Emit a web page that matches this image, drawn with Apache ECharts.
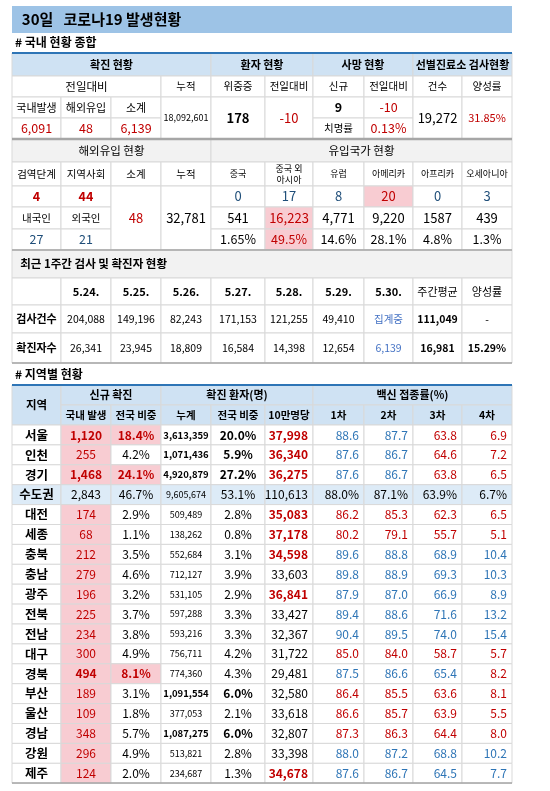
<!DOCTYPE html>
<html>
<head>
<meta charset="utf-8">
<script src="https://cdn.jsdelivr.net/npm/echarts@6/dist/echarts.min.js"></script>
<style>
  html, body { margin: 0; padding: 0; background: #fff; }
  #chart { width: 550px; height: 791px; }
</style>
</head>
<body>
<div id="chart"></div>
<script>
// ---- data ----
const titleText = '30일   코로나19 발생현황';

const t1Groups = ['확진 현황', '환자 현황', '사망 현황', '선별진료소 검사현황'];
const t1Sub = ['전일대비', '누적', '위중증', '전일대비', '신규', '전일대비', '건수', '양성률'];
const confirmLabels = ['국내발생', '해외유입', '소계'];
const confirmValues = ['6,091', '48', '6,139'];
const cumulativeTotal = '18,092,601';
const critical = ['178', '-10'];
const deaths = ['9', '-10'];
const fatality = ['치명률', '0.13%'];
const screening = ['19,272', '31.85%'];

const importLabels = ['검역단계', '지역사회', '소계', '누적'];
const importStage = ['4', '44'];
const importNat = ['내국인', '외국인'];
const importNatValues = ['27', '21'];
const importSub = '48';
const importCum = '32,781';
const origins = ['중국', '중국 외\n아시아', '유럽', '아메리카', '아프리카', '오세아니아'];
const originToday = ['0', '17', '8', '20', '0', '3'];
const originCum = ['541', '16,223', '4,771', '9,220', '1587', '439'];
const originShare = ['1.65%', '49.5%', '14.6%', '28.1%', '4.8%', '1.3%'];

const weekDates = ['5.24.', '5.25.', '5.26.', '5.27.', '5.28.', '5.29.', '5.30.', '주간평균', '양성률'];
const weekTests = ['204,088', '149,196', '82,243', '171,153', '121,255', '49,410', '집계중', '111,049', '-'];
const weekCases = ['26,341', '23,945', '18,809', '16,584', '14,398', '12,654', '6,139', '16,981', '15.29%'];

const regions = ['서울','인천','경기','수도권','대전','세종','충북','충남','광주','전북','전남','대구','경북','부산','울산','경남','강원','제주'];
const newLocal = [1120,255,1468,2843,174,68,212,279,196,225,234,300,494,189,109,348,296,124];
const newShare = [18.4,4.2,24.1,46.7,2.9,1.1,3.5,4.6,3.2,3.7,3.8,4.9,8.1,3.1,1.8,5.7,4.9,2.0];
const cumCases = [3613359,1071436,4920879,9605674,509489,138262,552684,712127,531105,597288,593216,756711,774360,1091554,377053,1087275,513821,234687];
const cumShare = [20.0,5.9,27.2,53.1,2.8,0.8,3.1,3.9,2.9,3.3,3.3,4.2,4.3,6.0,2.1,6.0,2.8,1.3];
const per100k = [37998,36340,36275,110613,35083,37178,34598,33603,36841,33427,32367,31722,29481,32580,33618,32807,33398,34678];
const dose1 = [88.6,87.6,87.6,88.0,86.2,80.2,89.6,89.8,87.9,89.4,90.4,85.0,87.5,86.4,86.6,87.3,88.0,87.6];
const dose2 = [87.7,86.7,86.7,87.1,85.3,79.1,88.8,88.9,87.0,88.6,89.5,84.0,86.6,85.5,85.7,86.3,87.2,86.7];
const dose3 = [63.8,64.6,63.8,63.9,62.3,55.7,68.9,69.3,66.9,71.6,74.0,58.7,65.4,63.6,63.9,64.4,68.8,64.5];
const dose4 = [6.9,7.2,6.5,6.7,6.5,5.1,10.4,10.3,8.9,13.2,15.4,5.7,8.2,8.1,5.5,8.0,10.2,7.7];

// ---- styling / layout ----
const vacTone = ['bbrr','bbrr','bbrr','kkkk','rrrr','rrrr','bbbb','bbbb','bbbb','bbbb','bbbb','rrrr','bbbr','rrrr','rrrr','rrrr','bbbb','bbbb'];
const RED = '#c00000', BLUE = '#2e75b6', NAVY = '#1f4e79', LINK = '#4472c4';
const PINK = '#f8ccd2', HEAD = '#cfe2f3', GRAY = '#f2f2f2', SUDO = '#ddebf7';
const X = [12, 61, 111, 161, 211, 265, 313, 364, 413, 462, 512];
const Y1 = [53, 76, 97, 118, 139];
const Y2 = [139, 162, 186, 207, 229, 250];
const Y3 = [250, 278, 305, 333, 363];
const Y4 = [385, 405, 425];
for (let i = 1; i <= regions.length; i++) Y4.push(425 + i * 19.9);

const fmt = v => v.toLocaleString('en-US');
const cells = [];
function cell(ys, c0, c1, r0, r1, text, o) {
  o = o || {};
  cells.push([X[c0], ys[r0], X[c1], ys[r1], text, o.bg || '#fff', o.color || '#000',
    o.bold ? 'bold' : 'normal', o.size || 11.5, o.align || 'center', o.stroke === undefined ? '#d9d9d9' : o.stroke]);
}
function free(x0, y0, x1, y1, text, o) { cells.push([x0, y0, x1, y1, text, o.bg || 'rgba(0,0,0,0)', o.color || '#000', o.bold ? 'bold' : 'normal', o.size || 12, o.align || 'left', null]); }

// title + section labels
free(12, 6, 512, 33, '  ' + titleText, { bg: '#9dc3e6', bold: true, size: 15 });
free(12, 35, 300, 50, '# 국내 현황 종합', { bold: true, size: 12 });
free(12, 366, 300, 382, '# 지역별 현황', { bold: true, size: 12 });

// table 1
[[0, 4], [4, 6], [6, 8], [8, 10]].forEach((s, i) => cell(Y1, s[0], s[1], 0, 1, t1Groups[i], { bg: HEAD, bold: true, size: 11 }));
cell(Y1, 0, 3, 1, 2, t1Sub[0]);
t1Sub.slice(1).forEach((t, i) => cell(Y1, 3 + i, 4 + i, 1, 2, t, { size: 10.5 }));
confirmLabels.forEach((t, i) => cell(Y1, i, i + 1, 2, 3, t, { size: 11 }));
confirmValues.forEach((t, i) => cell(Y1, i, i + 1, 3, 4, t, { color: RED, size: 12.5 }));
cell(Y1, 3, 4, 2, 4, cumulativeTotal, { size: 9 });
cell(Y1, 4, 5, 2, 4, critical[0], { bold: true, size: 13 });
cell(Y1, 5, 6, 2, 4, critical[1], { color: RED, size: 13 });
cell(Y1, 6, 7, 2, 3, deaths[0], { bold: true, size: 12.5 });
cell(Y1, 7, 8, 2, 3, deaths[1], { color: RED, size: 12.5 });
cell(Y1, 6, 7, 3, 4, fatality[0], { size: 10.5 });
cell(Y1, 7, 8, 3, 4, fatality[1], { color: RED, size: 12.5 });
cell(Y1, 8, 9, 2, 4, screening[0], { size: 13 });
cell(Y1, 9, 10, 2, 4, screening[1], { color: RED, size: 11 });

// table 2
cell(Y2, 0, 4, 0, 1, '해외유입 현황', { bg: GRAY, size: 11.5 });
cell(Y2, 4, 10, 0, 1, '유입국가 현황', { bg: GRAY, size: 11.5 });
importLabels.forEach((t, i) => cell(Y2, i, i + 1, 1, 2, t, { size: 10.5 }));
origins.forEach((t, i) => cell(Y2, 4 + i, 5 + i, 1, 2, t, { size: 9 }));
importStage.forEach((t, i) => cell(Y2, i, i + 1, 2, 3, t, { color: RED, bold: true, size: 12.5 }));
importNat.forEach((t, i) => cell(Y2, i, i + 1, 3, 4, t, { size: 10.5 }));
importNatValues.forEach((t, i) => cell(Y2, i, i + 1, 4, 5, t, { color: NAVY, size: 12.5 }));
cell(Y2, 2, 3, 2, 5, importSub, { color: RED, size: 13 });
cell(Y2, 3, 4, 2, 5, importCum, { size: 13 });
const peak = i => originCum.indexOf('16,223') === i;
originToday.forEach((t, i) => cell(Y2, 4 + i, 5 + i, 2, 3, t, { color: i === 3 ? RED : NAVY, bg: i === 3 ? PINK : '#fff', size: 13 }));
originCum.forEach((t, i) => cell(Y2, 4 + i, 5 + i, 3, 4, t, { color: peak(i) ? RED : '#000', bg: peak(i) ? PINK : '#fff', size: 13 }));
originShare.forEach((t, i) => cell(Y2, 4 + i, 5 + i, 4, 5, t, { color: peak(i) ? RED : '#000', bg: peak(i) ? PINK : '#fff', size: 12.5 }));

// table 3
cell(Y3, 0, 10, 0, 1, '  최근 1주간 검사 및 확진자 현황', { bg: GRAY, bold: true, align: 'left', size: 11.5 });
cell(Y3, 0, 1, 1, 2, '');
weekDates.forEach((t, i) => cell(Y3, 1 + i, 2 + i, 1, 2, t, { bold: i < 7, size: 11 }));
cell(Y3, 0, 1, 2, 3, '검사건수', { bold: true, size: 11 });
cell(Y3, 0, 1, 3, 4, '확진자수', { bold: true, size: 11 });
weekTests.forEach((t, i) => cell(Y3, 1 + i, 2 + i, 2, 3, t, { color: i === 6 ? LINK : '#000', bold: i === 7, size: 10.5 }));
weekCases.forEach((t, i) => cell(Y3, 1 + i, 2 + i, 3, 4, t, { color: i === 6 ? LINK : '#000', bold: i >= 7, size: 10.5 }));

// table 4
cell(Y4, 0, 1, 0, 2, '지역', { bg: HEAD, bold: true, size: 11.5 });
cell(Y4, 1, 3, 0, 1, '신규 확진', { bg: HEAD, bold: true, size: 11 });
cell(Y4, 3, 6, 0, 1, '확진 환자(명)', { bg: HEAD, bold: true, size: 11 });
cell(Y4, 6, 10, 0, 1, '백신 접종률(%)', { bg: HEAD, bold: true, size: 11 });
['국내 발생', '전국 비중', '누계', '전국 비중', '10만명당', '1차', '2차', '3차', '4차']
  .forEach((t, i) => cell(Y4, 1 + i, 2 + i, 1, 2, t, { bg: HEAD, bold: true, size: 10.5 }));
regions.forEach((r, i) => {
  const row = 2 + i, sudo = r === '수도권';
  const base = sudo ? SUDO : '#fff';
  cell(Y4, 0, 1, row, row + 1, r, { bg: base, bold: true, size: 12.5 });
  cell(Y4, 1, 2, row, row + 1, fmt(newLocal[i]), { bg: sudo ? base : PINK, color: sudo ? '#000' : RED, bold: newShare[i] >= 8 && !sudo, size: 12 });
  const hot = newShare[i] >= 8 && !sudo;
  cell(Y4, 2, 3, row, row + 1, newShare[i].toFixed(1) + '%', { bg: hot ? PINK : base, color: hot ? RED : '#000', bold: hot, size: 12 });
  const big = cumShare[i] >= 5 && !sudo;
  cell(Y4, 3, 4, row, row + 1, fmt(cumCases[i]), { bg: base, bold: big, size: big ? 9.5 : 9 });
  cell(Y4, 4, 5, row, row + 1, cumShare[i].toFixed(1) + '%', { bg: base, bold: big, size: 12 });
  const high = per100k[i] > 34000 && !sudo;
  cell(Y4, 5, 6, row, row + 1, fmt(per100k[i]), { bg: base, bold: high, color: high ? RED : '#000', size: 12, align: 'right' });
  [dose1, dose2, dose3, dose4].forEach((d, k) => {
    const tone = vacTone[i][k];
    cell(Y4, 6 + k, 7 + k, row, row + 1, d[i].toFixed(1) + (sudo ? '%' : ''), {
      bg: base, color: tone === 'r' ? RED : tone === 'b' ? BLUE : '#000', size: 12, align: 'right'
    });
  });
});

// ---- chart ----
const chart = echarts.init(document.getElementById('chart'));
chart.setOption({
  animation: false,
  grid: { left: 0, right: 0, top: 0, bottom: 0 },
  xAxis: { type: 'value', min: 0, max: 550, show: false },
  yAxis: { type: 'value', min: 0, max: 791, inverse: true, show: false },
  series: [{
    type: 'custom',
    coordinateSystem: 'cartesian2d',
    data: cells,
    renderItem: function (params, api) {
      const p0 = api.coord([api.value(0), api.value(1)]);
      const p1 = api.coord([api.value(2), api.value(3)]);
      const d = cells[params.dataIndex];
      const w = p1[0] - p0[0], h = p1[1] - p0[1];
      const align = d[9];
      const tx = align === 'left' ? p0[0] + 3 : align === 'right' ? p1[0] - 5 : p0[0] + w / 2;
      return {
        type: 'group',
        children: [
          { type: 'rect', shape: { x: p0[0], y: p0[1], width: w, height: h },
            style: { fill: d[5], stroke: d[10] || null, lineWidth: d[10] ? 1 : 0 } },
          { type: 'text', style: { x: tx, y: p0[1] + h / 2, text: d[4], fill: d[6],
              fontWeight: d[7], fontSize: d[8], fontFamily: 'Noto Sans CJK KR',
              align: align, verticalAlign: 'middle', lineHeight: 11 } }
        ]
      };
    }
  }, {
    // table rules
    type: 'custom',
    data: [[12, 53, 512, 53, '#2e75b6', 2], [12, 139, 512, 139, '#a6a6a6', 2.5], [12, 385, 512, 385, '#2e75b6', 2],
           [12, 250, 512, 250, '#a6a6a6', 1.5], [12, 363, 512, 363, '#a6a6a6', 1.5], [12, 783, 512, 783, '#a6a6a6', 1.5]],
    renderItem: function (params, api) {
      const a = api.coord([api.value(0), api.value(1)]);
      const b = api.coord([api.value(2), api.value(3)]);
      return { type: 'line', shape: { x1: a[0], y1: a[1], x2: b[0], y2: b[1] },
        style: { stroke: api.value(4), lineWidth: api.value(5) } };
    }
  }]
});
</script>
</body>
</html>
